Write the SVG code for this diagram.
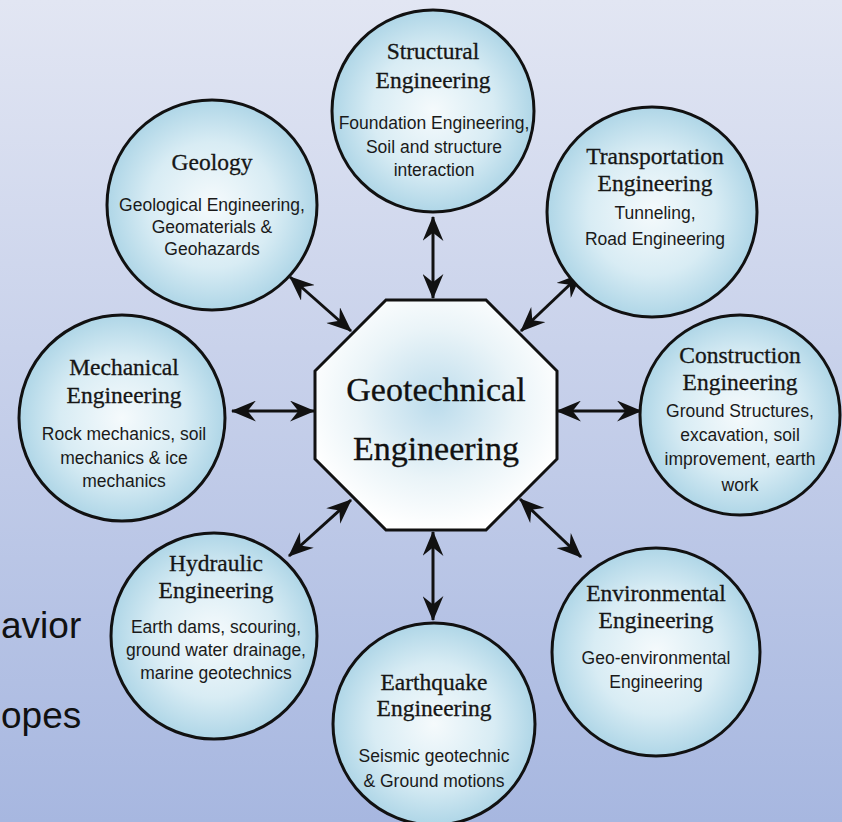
<svg xmlns="http://www.w3.org/2000/svg" width="842" height="822" viewBox="0 0 842 822">
  <defs>
    <linearGradient id="bg" x1="0" y1="0" x2="0" y2="1">
      <stop offset="0" stop-color="#e2e6f3"/>
      <stop offset="1" stop-color="#a7b7e0"/>
    </linearGradient>
    <radialGradient id="cg" cx="0.5" cy="0.5" r="0.5">
      <stop offset="0" stop-color="#f5fafc"/>
      <stop offset="0.6" stop-color="#d8ecf4"/>
      <stop offset="1" stop-color="#afd6e7"/>
    </radialGradient>
    <radialGradient id="og" cx="0.5" cy="0.45" r="0.55">
      <stop offset="0" stop-color="#bcdcec"/>
      <stop offset="0.6" stop-color="#eaf4f8"/>
      <stop offset="1" stop-color="#ffffff"/>
    </radialGradient>
    <marker id="ah" viewBox="0 0 24 20" refX="23" refY="10" markerWidth="25" markerHeight="21" markerUnits="userSpaceOnUse" orient="auto-start-reverse">
      <path d="M0,0 L24,10 L0,20 L8,10 z" fill="#111"/>
    </marker>
  </defs>
  <style>
    .node circle { fill: url(#cg); stroke: #111; stroke-width: 3; }
    .t { font-family: "Liberation Serif", "DejaVu Serif", serif; font-size: 23.5px; fill: #161616; stroke: #161616; stroke-width: 0.3; text-anchor: middle; }
    .s { font-family: "Liberation Sans", Arial, sans-serif; font-size: 17.5px; fill: #1a1a1a; text-anchor: middle; }
    .m { font-family: "Liberation Serif", "DejaVu Serif", serif; font-size: 34px; fill: #111; stroke: #111; stroke-width: 0.3; text-anchor: middle; }
    .side { font-family: "Liberation Sans", Arial, sans-serif; font-size: 37px; fill: #111; }
    #connectors line { stroke: #111; stroke-width: 3; marker-start: url(#ah); marker-end: url(#ah); }
  </style>
  <rect width="842" height="822" fill="url(#bg)"/>

  <text class="side" x="1" y="638">avior</text>
  <text class="side" x="1" y="728">opes</text>

  <g id="connectors">
    <line x1="433" y1="217" x2="433" y2="298"/>
    <line x1="290" y1="277" x2="351" y2="331"/>
    <line x1="581" y1="274" x2="521" y2="331"/>
    <line x1="232" y1="411" x2="314" y2="411"/>
    <line x1="557" y1="411" x2="641" y2="411"/>
    <line x1="289" y1="556" x2="351" y2="500"/>
    <line x1="520" y1="499" x2="581" y2="557"/>
    <line x1="433" y1="532" x2="433" y2="620"/>
  </g>

  <g id="geotechnical">
    <polygon points="386,300 486,300 557,371 557,459 486,530 386,530 315,459 315,371" fill="url(#og)" stroke="#111" stroke-width="3"/>
    <text class="m" x="436" y="401">Geotechnical</text>
    <text class="m" x="436" y="460">Engineering</text>
  </g>

  <g id="structural" class="node">
    <circle cx="433" cy="111" r="101"/>
    <text class="t" x="433" y="59">Structural</text>
    <text class="t" x="433" y="88">Engineering</text>
    <text class="s" x="434" y="129">Foundation Engineering,</text>
    <text class="s" x="434" y="153">Soil and structure</text>
    <text class="s" x="434" y="176">interaction</text>
  </g>

  <g id="geology" class="node">
    <circle cx="212" cy="205" r="105"/>
    <text class="t" x="212" y="170">Geology</text>
    <text class="s" x="212" y="211">Geological Engineering,</text>
    <text class="s" x="212" y="233">Geomaterials &amp;</text>
    <text class="s" x="212" y="255">Geohazards</text>
  </g>

  <g id="transportation" class="node">
    <circle cx="652" cy="212" r="105"/>
    <text class="t" x="655" y="164">Transportation</text>
    <text class="t" x="655" y="191">Engineering</text>
    <text class="s" x="655" y="219">Tunneling,</text>
    <text class="s" x="655" y="245">Road Engineering</text>
  </g>

  <g id="mechanical" class="node">
    <circle cx="122" cy="418" r="103"/>
    <text class="t" x="124" y="375">Mechanical</text>
    <text class="t" x="124" y="403">Engineering</text>
    <text class="s" x="124" y="440">Rock mechanics, soil</text>
    <text class="s" x="124" y="464">mechanics &amp; ice</text>
    <text class="s" x="124" y="487">mechanics</text>
  </g>

  <g id="construction" class="node">
    <circle cx="740" cy="415" r="100"/>
    <text class="t" x="740" y="363">Construction</text>
    <text class="t" x="740" y="390">Engineering</text>
    <text class="s" x="740" y="417">Ground Structures,</text>
    <text class="s" x="740" y="441">excavation, soil</text>
    <text class="s" x="740" y="465">improvement, earth</text>
    <text class="s" x="740" y="491">work</text>
  </g>

  <g id="hydraulic" class="node">
    <circle cx="214" cy="636" r="103"/>
    <text class="t" x="216" y="571">Hydraulic</text>
    <text class="t" x="216" y="598">Engineering</text>
    <text class="s" x="216" y="633">Earth dams, scouring,</text>
    <text class="s" x="216" y="656">ground water drainage,</text>
    <text class="s" x="216" y="679">marine geotechnics</text>
  </g>

  <g id="environmental" class="node">
    <circle cx="656" cy="652" r="104"/>
    <text class="t" x="656" y="601">Environmental</text>
    <text class="t" x="656" y="628">Engineering</text>
    <text class="s" x="656" y="664">Geo-environmental</text>
    <text class="s" x="656" y="688">Engineering</text>
  </g>

  <g id="earthquake" class="node">
    <circle cx="434" cy="724" r="101"/>
    <text class="t" x="434" y="690">Earthquake</text>
    <text class="t" x="434" y="716">Engineering</text>
    <text class="s" x="434" y="762">Seismic geotechnic</text>
    <text class="s" x="434" y="787">&amp; Ground motions</text>
  </g>
</svg>
